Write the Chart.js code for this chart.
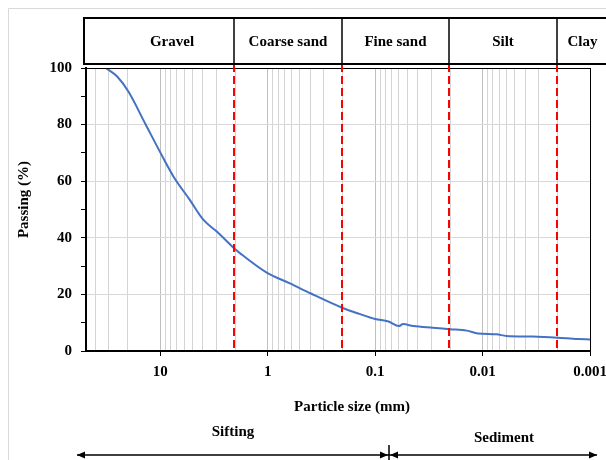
<!DOCTYPE html>
<html>
<head>
<meta charset="utf-8">
<script src="https://cdn.jsdelivr.net/npm/chart.js@4.4.1/dist/chart.umd.min.js"></script>
<style>
  html, body { margin: 0; padding: 0; background: #fff; }
  canvas { display: block; }
</style>
</head>
<body>
<canvas id="grafico" width="606" height="460"></canvas>
<script>
// particle size (mm) and percent passing
const sizes = [32, 25, 19.7, 13.8, 9.7, 7.5, 5.3, 3.95, 2.97, 2.05, 1.8, 1.02, 0.62, 0.4, 0.2, 0.14, 0.1, 0.075, 0.06, 0.055, 0.044, 0.029, 0.02, 0.014, 0.011, 0.0074, 0.006, 0.0034, 0.002, 0.0013, 0.001];
const passing = [100, 96.9, 91.6, 80.4, 69.3, 61.6, 53.4, 46.3, 42.2, 36.3, 34.5, 27.7, 23.9, 20.4, 15.2, 13.1, 11.3, 10.4, 8.8, 9.5, 8.8, 8.2, 7.7, 7.2, 6.2, 5.9, 5.3, 5.1, 4.7, 4.2, 4.1];

const xTickLabels = ['10', '1', '0.1', '0.01', '0.001'];
const yTickLabels = ['0', '20', '40', '60', '80', '100'];

// soil classes and their limits (mm)
const bandNames = ['Gravel', 'Coarse sand', 'Fine sand', 'Silt', 'Clay'];
const bandLimits = [2, 0.2, 0.02, 0.002];
const methodNames = ['Sifting', 'Sediment'];
const methodLimit = 0.075;

const serif = "'Liberation Serif', 'Times New Roman', serif";

// grid values 1..9 x 10^n
const gridValues = [];
for (let e = -3; e <= 1; e++) {
  for (let m = 1; m <= 9; m++) {
    const v = Number((m * Math.pow(10, e)).toPrecision(3));
    if (v <= 40) gridValues.push(v);
  }
}
const isMajor = v => xTickLabels.includes(String(v));

const extras = {
  id: 'extras',
  beforeDraw(chart) {
    const c = chart.ctx;
    c.save();
    c.fillStyle = '#fff';
    c.fillRect(0, 0, chart.width, chart.height);
    c.strokeStyle = '#d9d9d9';
    c.lineWidth = 1;
    c.beginPath();
    c.moveTo(8.5, chart.height + 2);
    c.lineTo(8.5, 8.5);
    c.lineTo(chart.width + 2, 8.5);
    c.stroke();
    c.restore();
  },
  afterDatasetsDraw(chart) {
    const c = chart.ctx;
    const a = chart.chartArea;
    const x = chart.scales.x;
    const boxTop = 18, boxBottom = 64;
    c.save();

    // plot frame
    c.strokeStyle = '#000';
    c.lineWidth = 1;
    c.strokeRect(a.left + 0.5, a.top + 0.5, a.right - a.left, a.bottom - a.top);

    // red limits
    c.strokeStyle = '#ff0000';
    c.lineWidth = 2;
    c.setLineDash([8, 4]);
    bandLimits.forEach(v => {
      const px = Math.round(x.getPixelForValue(v)) - 1;
      c.beginPath();
      c.moveTo(px, boxBottom);
      c.lineTo(px, a.bottom);
      c.stroke();
    });
    c.setLineDash([]);

    // class box
    c.strokeStyle = '#000';
    c.lineWidth = 2;
    c.strokeRect(a.left - 2, boxTop, chart.width + 10, boxBottom - boxTop);
    c.lineWidth = 1.5;
    const edges = bandLimits.map(v => Math.round(x.getPixelForValue(v)) - 1);
    edges.forEach(px => {
      c.beginPath();
      c.moveTo(px, boxTop);
      c.lineTo(px, boxBottom);
      c.stroke();
    });
    c.fillStyle = '#000';
    c.font = 'bold 15px ' + serif;
    c.textAlign = 'center';
    c.textBaseline = 'middle';
    const lefts = [a.left + 24].concat(edges);
    const rights = edges.concat([chart.width + 2]);
    bandNames.forEach((name, i) => {
      c.fillText(name, (lefts[i] + rights[i]) / 2, 42);
    });

    // axis titles
    c.fillText('Particle size (mm)', (a.left + a.right) / 2 + 14, 407);
    c.save();
    c.translate(24, (a.top + a.bottom) / 2 - 10);
    c.rotate(-Math.PI / 2);
    c.fillText('Passing (%)', 0, 0);
    c.restore();

    // sifting / sediment arrows
    const ay = 455, x0 = 77, x2 = 597;
    const x1 = Math.round(x.getPixelForValue(methodLimit));
    c.lineWidth = 1.5;
    c.beginPath();
    c.moveTo(x0, ay); c.lineTo(x2, ay);
    c.moveTo(x1, 445); c.lineTo(x1, 462);
    c.stroke();
    const head = (tip, dir) => {
      c.beginPath();
      c.moveTo(tip, ay);
      c.lineTo(tip - dir * 8, ay - 3.5);
      c.lineTo(tip - dir * 8, ay + 3.5);
      c.closePath();
      c.fill();
    };
    head(x0, -1); head(x1 - 1, 1); head(x1 + 1, -1); head(x2, 1);
    c.fillText(methodNames[0], (x0 + x1) / 2, 432);
    c.fillText(methodNames[1], (x1 + x2) / 2 + 11, 438);
    c.restore();
  }
};

const ctx = document.getElementById('grafico');

const data = {
  datasets: [
    {
      label: 'Passing',
      data: sizes.map((s, i) => ({ x: s, y: passing[i] })),
      borderColor: '#4472C4',
      borderWidth: 2,
      pointRadius: 0,
      cubicInterpolationMode: 'monotone',
      fill: false,
    },
  ],
};

const options = {
  responsive: false,
  animation: false,
  layout: { padding: { left: 0, top: 68, right: 16, bottom: 0 } },
  plugins: {
    legend: { display: false },
    tooltip: { enabled: false },
  },
  scales: {
    x: {
      type: 'logarithmic',
      reverse: true,
      min: 0.001,
      max: 49,
      afterBuildTicks: scale => {
        scale.ticks = gridValues.map(v => ({ value: v, major: isMajor(v) }));
      },
      afterFit: scale => {
        scale.height = 109;
        scale.paddingLeft = 0;
        scale.paddingRight = 0;
      },
      ticks: {
        autoSkip: false,
        maxRotation: 0,
        padding: 7,
        color: '#000',
        font: { family: serif, size: 15, weight: 'bold' },
        callback: v => (isMajor(v) ? String(v) : ''),
      },
      grid: {
        color: c => (c.tick && c.tick.major ? '#bfbfbf' : '#d4d4d4'),
        tickColor: c => (c.tick && c.tick.major ? '#000' : 'rgba(0,0,0,0)'),
        tickLength: 5,
      },
      border: { color: '#000', width: 2 },
    },
    y: {
      min: 0,
      max: 100,
      afterFit: scale => {
        scale.width = 86;
        scale.paddingTop = 0;
        scale.paddingBottom = 0;
      },
      ticks: {
        stepSize: 10,
        padding: 9,
        color: '#000',
        font: { family: serif, size: 15, weight: 'bold' },
        callback: v => (yTickLabels.includes(String(v)) ? String(v) : ''),
      },
      grid: {
        color: c => (c.tick && c.tick.value % 20 === 0 && c.tick.value > 0 && c.tick.value < 100 ? '#d9d9d9' : 'rgba(0,0,0,0)'),
        tickColor: '#000',
        tickLength: 5,
      },
      border: { color: '#000', width: 2 },
    },
  },
};

const myChart = new Chart(ctx, {
  type: 'line',
  data,
  options,
  plugins: [extras],
});
</script>
</body>
</html>
